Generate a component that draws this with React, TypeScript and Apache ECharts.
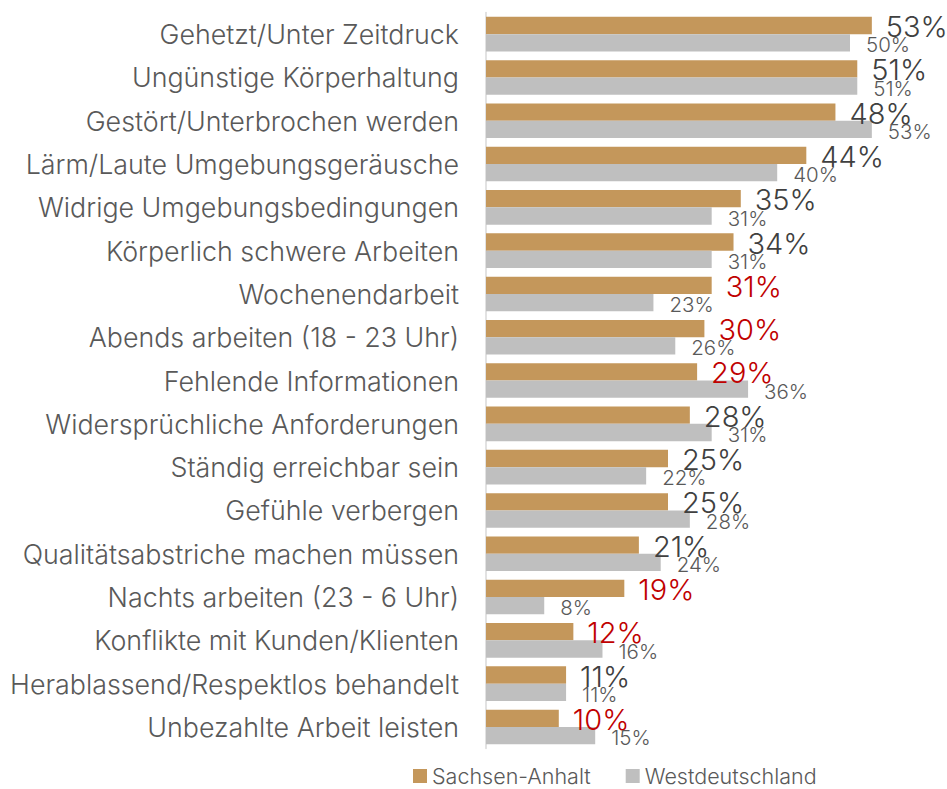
import React, { useEffect, useRef } from "react";
import * as echarts from "echarts";

const categories = [
  "Gehetzt/Unter Zeitdruck",
  "Ungünstige Körperhaltung",
  "Gestört/Unterbrochen werden",
  "Lärm/Laute Umgebungsgeräusche",
  "Widrige Umgebungsbedingungen",
  "Körperlich schwere Arbeiten",
  "Wochenendarbeit",
  "Abends arbeiten (18 - 23 Uhr)",
  "Fehlende Informationen",
  "Widersprüchliche Anforderungen",
  "Ständig erreichbar sein",
  "Gefühle verbergen",
  "Qualitätsabstriche machen müssen",
  "Nachts arbeiten (23 - 6 Uhr)",
  "Konflikte mit Kunden/Klienten",
  "Herablassend/Respektlos behandelt",
  "Unbezahlte Arbeit leisten",
];

const sachsenAnhalt = [53, 51, 48, 44, 35, 34, 31, 30, 29, 28, 25, 25, 21, 19, 12, 11, 10];
const westdeutschland = [50, 51, 53, 40, 31, 31, 23, 26, 36, 31, 22, 28, 24, 8, 16, 11, 15];
// Sachsen-Anhalt values highlighted in red
const highlighted = [
  "Wochenendarbeit",
  "Abends arbeiten (18 - 23 Uhr)",
  "Fehlende Informationen",
  "Nachts arbeiten (23 - 6 Uhr)",
  "Konflikte mit Kunden/Klienten",
  "Unbezahlte Arbeit leisten",
];

const FONT = "Inter, 'Noto Sans', sans-serif";

export default function App() {
  const ref = useRef<HTMLDivElement>(null);
  useEffect(() => {
    if (!ref.current) return;
    const chart = echarts.init(ref.current, null, { renderer: "svg" });
    chart.setOption({
      animation: false,
      textStyle: { fontFamily: FONT },
      grid: { left: 486, top: 12.5, width: 436.8, height: 736.1, containLabel: false },
      legend: {
        left: 413,
        top: 765,
        itemWidth: 14,
        itemHeight: 14,
        itemGap: 35,
        icon: "rect",
        padding: 0,
        textStyle: {
          fontSize: 21.5,
          color: "#595959",
          fontFamily: FONT,
          fontWeight: 300,
        },
        data: ["Sachsen-Anhalt", "Westdeutschland"],
      },
      xAxis: {
        type: "value",
        min: 0,
        max: 60,
        show: false,
      },
      yAxis: {
        type: "category",
        data: categories,
        inverse: true,
        axisLine: { show: true, lineStyle: { color: "#D9D9D9", width: 1.5 } },
        axisTick: { show: false },
        axisLabel: {
          fontSize: 26.8,
          color: "#595959",
          fontFamily: FONT,
          fontWeight: 300,
          margin: 27,
        },
      },
      series: [
        {
          name: "Sachsen-Anhalt",
          type: "bar",
          data: sachsenAnhalt,
          barWidth: 17.3,
          barGap: "0%",
          itemStyle: { color: "#C4975B" },
          label: {
            show: true,
            position: "right",
            distance: 14,
            offset: [0, 1],
            fontFamily: FONT,
            fontWeight: 300,
            formatter: (p: any) =>
              highlighted.includes(p.name) ? `{r|${p.value}%}` : `{d|${p.value}%}`,
            rich: {
              r: { fontSize: 29, color: "#C00000", fontFamily: FONT, fontWeight: 300 },
              d: { fontSize: 29, color: "#404040", fontFamily: FONT, fontWeight: 300 },
            },
          },
        },
        {
          name: "Westdeutschland",
          type: "bar",
          data: westdeutschland,
          barWidth: 17.3,
          itemStyle: { color: "#BFBFBF" },
          label: {
            show: true,
            position: "right",
            distance: 16,
            offset: [0, 2],
            fontSize: 20.5,
            color: "#595959",
            fontFamily: FONT,
            fontWeight: 300,
            formatter: "{c}%",
          },
        },
      ],
    });
    return () => chart.dispose();
  }, []);
  return <div ref={ref} style={{ width: 947, height: 789, position: "absolute", left: 0, top: 0 }} />;
}
